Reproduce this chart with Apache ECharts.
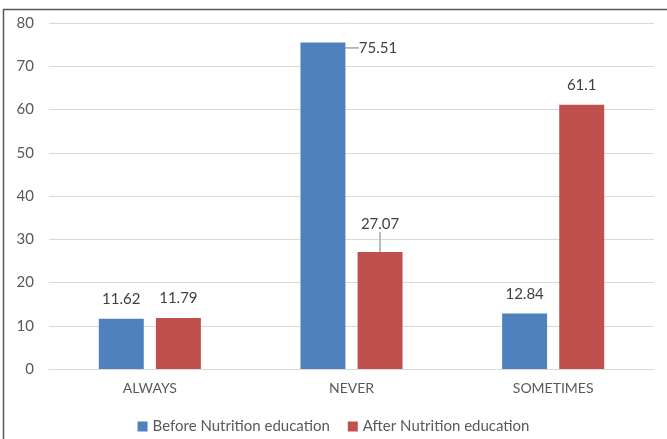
<!DOCTYPE html>
<html>
<head>
<meta charset="utf-8">
<script src="https://cdn.jsdelivr.net/npm/echarts@6/dist/echarts.min.js"></script>
<style>
  html, body { margin: 0; padding: 0; background: #fff; }
  #chart { width: 667px; height: 439px; }
</style>
</head>
<body>
<div id="chart"></div>
<script>
// Frequency responses before and after nutrition education (%)
const categories = ['ALWAYS', 'NEVER', 'SOMETIMES'];
const beforeValues = [11.62, 75.51, 12.84];
const afterValues = [11.79, 27.07, 61.1];
const seriesNames = ['Before Nutrition education', 'After Nutrition education'];
const yTicks = [0, 10, 20, 30, 40, 50, 60, 70, 80];

const textColor = '#595959';
const fontFamily = 'Lato, "Open Sans", sans-serif';
const leaderStyle = { color: '#a6a6a6', width: 1.5 };

const chart = echarts.init(document.getElementById('chart'), null, { renderer: 'canvas' });

const valueLabel = {
  show: true,
  position: 'top',
  distance: 12,
  color: '#404040',
  fontSize: 15,
  fontFamily: fontFamily,
  formatter: p => String(p.value)
};

// Only the shifted labels get a leader line
function withLeader(values, leaderIndex) {
  return values.map((v, i) => ({
    value: v,
    labelLine: { show: i === leaderIndex, lineStyle: leaderStyle }
  }));
}

chart.setOption({
  animation: false,
  backgroundColor: '#fff',
  graphic: [{
    type: 'rect',
    shape: { x: 3.5, y: 9.5, width: 700, height: 460 },
    style: { fill: 'none', stroke: '#5a5a5a', lineWidth: 1.5 },
    silent: true
  }],
  grid: { left: 49, right: 13, top: 23, bottom: 70 },
  legend: {
    bottom: 0,
    left: 'center',
    itemWidth: 10,
    itemHeight: 10,
    itemGap: 18,
    icon: 'rect',
    textStyle: { color: textColor, fontSize: 15, fontFamily: fontFamily },
    data: seriesNames
  },
  xAxis: {
    type: 'category',
    data: categories,
    axisLine: { show: true, lineStyle: { color: '#d9d9d9', width: 1 } },
    axisTick: { show: false },
    axisLabel: { color: textColor, fontSize: 14, fontFamily: fontFamily, margin: 12 }
  },
  yAxis: {
    type: 'value',
    min: yTicks[0],
    max: yTicks[yTicks.length - 1],
    interval: 10,
    axisLine: { show: false },
    axisTick: { show: false },
    axisLabel: { color: textColor, fontSize: 15, fontFamily: fontFamily, margin: 15 },
    splitLine: { lineStyle: { color: '#d9d9d9', width: 1 } }
  },
  series: [
    {
      name: seriesNames[0],
      type: 'bar',
      data: withLeader(beforeValues, 1),
      barWidth: '22.3%',
      barGap: '27%',
      itemStyle: { color: '#4f81bd' },
      label: valueLabel,
      labelLayout: p => (p.dataIndex === 1 ? { dx: 55, dy: 25 } : {})
    },
    {
      name: seriesNames[1],
      type: 'bar',
      data: withLeader(afterValues, 1),
      barWidth: '22.3%',
      itemStyle: { color: '#c0504d' },
      label: valueLabel,
      labelLayout: p => (p.dataIndex === 1 ? { dy: -8 } : {})
    }
  ]
});
</script>
</body>
</html>
